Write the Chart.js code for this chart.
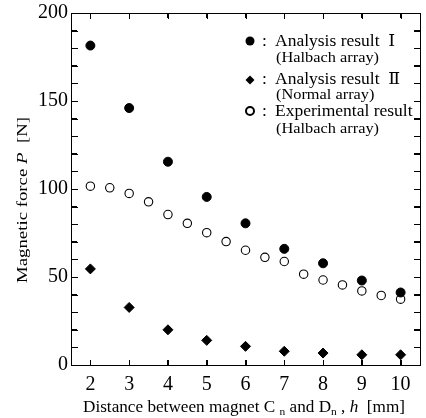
<!DOCTYPE html>
<html><head><meta charset="utf-8">
<script src="https://cdn.jsdelivr.net/npm/chart.js@4"></script>
<style>html,body{margin:0;padding:0;background:#fff;}#wrap{width:426px;height:418px;position:relative;}#wrap canvas{position:absolute;left:0;top:0;}.ov{position:absolute;background:#000;pointer-events:none;z-index:5;}</style>
</head><body><div id="wrap"><canvas id="c" width="426" height="418"></canvas></div>
<script>
// ---- data ----
const xTickValues = [2, 3, 4, 5, 6, 7, 8, 9, 10];
const yTickValues = [0, 50, 100, 150, 200];
const yMinorStep = 10;
const analysisX = [2, 3, 4, 5, 6, 7, 8, 9, 10];
const analysisHalbach = [181.5, 146, 115.5, 95.5, 80.5, 66, 57.8, 48, 41.2];
const analysisNormal = [54.6, 32.7, 20, 14, 10.6, 7.8, 6.8, 5.8, 5.8];
const experimentX = [2, 2.5, 3, 3.5, 4, 4.5, 5, 5.5, 6, 6.5, 7, 7.5, 8, 8.5, 9, 9.5, 10];
const experimentHalbach = [101.6, 100.7, 97.5, 92.7, 85.5, 80.5, 75.2, 70.1, 65.2, 61.2, 58.8, 51.6, 48.3, 45.5, 42.1, 39.5, 37.4];
const legendMain = ['Analysis result  \u2160', 'Analysis result  \u2161', 'Experimental result'];
const legendSub = ['(Halbach array)', '(Normal array)', '(Halbach array)'];
const xTitle = [
  {t: 'Distance between magnet C ', s: 'n'},
  {t: 'n', s: 'sub'},
  {t: ' and D', s: 'n'},
  {t: 'n', s: 'sub'},
  {t: ' , ', s: 'n'},
  {t: 'h', s: 'i'},
  {t: '  [mm]', s: 'n'}
];
const yTitle = [
  {t: 'Magnetic force ', s: 'n'},
  {t: 'P', s: 'i'},
  {t: '  [N]', s: 'n'}
];

const FAM = "'Liberation Serif','Times New Roman','DejaVu Serif',serif";
const pts = (xs, ys) => xs.map((x, i) => ({x: x, y: ys[i]}));
const yAllTicks = [];
for (let v = yTickValues[0]; v <= yTickValues[yTickValues.length - 1]; v += yMinorStep) yAllTicks.push(v);

function segFont(s, size) {
  if (s === 'i') return 'italic ' + size + 'px ' + FAM;
  if (s === 'sub') return Math.round(size * 0.68) + 'px ' + FAM;
  return size + 'px ' + FAM;
}
function richWidth(ctx, segs, size) {
  let w = 0;
  for (const g of segs) { ctx.font = segFont(g.s, size); w += ctx.measureText(g.t).width; }
  return w;
}
function drawRichFit(ctx, segs, size, tw) {
  const w = richWidth(ctx, segs, size);
  ctx.save();
  ctx.scale(tw / w, 1);
  let cx = 0;
  for (const g of segs) {
    ctx.font = segFont(g.s, size);
    ctx.fillText(g.t, cx, g.s === 'sub' ? 3 : 0);
    cx += ctx.measureText(g.t).width;
  }
  ctx.restore();
}
function fitText(ctx, text, x, y, font, sx) {
  ctx.save();
  ctx.translate(x, y);
  ctx.scale(sx, 1);
  ctx.font = font;
  ctx.fillText(text, 0, 0);
  ctx.restore();
}

// frame + inward ticks as overlay elements, positioned from the chart's own scales
function overlayFrame(chart) {
  const wrap = document.getElementById('wrap');
  wrap.querySelectorAll('.ov').forEach(e => e.remove());
  const a = chart.chartArea, xs = chart.scales.x, ys = chart.scales.y;
  const L = Math.round(a.left), R = Math.round(a.right), T = Math.round(a.top), B = Math.round(a.bottom);
  const box = (l, t, w, h) => {
    const d = document.createElement('div');
    d.className = 'ov';
    d.style.left = l + 'px'; d.style.top = t + 'px';
    d.style.width = w + 'px'; d.style.height = h + 'px';
    wrap.appendChild(d);
  };
  box(L, T, R - L + 1, 1);
  box(L, B, R - L + 1, 1);
  box(L, T, 1, B - T + 1);
  box(R, T, 1, B - T + 1);
  for (const v of xTickValues) {
    const p = Math.round(xs.getPixelForValue(v));
    box(p, B - 5, 1, 5);
    box(p, T + 1, 1, 5);
  }
  for (const v of yAllTicks) {
    const p = Math.round(ys.getPixelForValue(v));
    box(L + 1, p, 6, 1);
    box(R - 6, p, 6, 1);
  }
}

const decor = {
  id: 'decor',
  afterRender(chart) { overlayFrame(chart); },
  afterDraw(chart) {
    const ctx = chart.ctx;
    ctx.save();
    ctx.fillStyle = '#000';
    ctx.strokeStyle = '#000';
    ctx.textBaseline = 'alphabetic';
    ctx.textAlign = 'left';
    // legend
    const mx = 250, tx = 275, colx = 262;
    const rows = [41, 80, 111];
    const baseMain = [45.5, 84, 115.5];
    const baseSub = [62, 99, 133];
    ctx.beginPath(); ctx.arc(mx, rows[0], 4.5, 0, Math.PI * 2); ctx.fill();
    ctx.beginPath();
    ctx.moveTo(mx, rows[1] - 4.5); ctx.lineTo(mx + 4.5, rows[1]); ctx.lineTo(mx, rows[1] + 4.5); ctx.lineTo(mx - 4.5, rows[1]); ctx.closePath(); ctx.fill();
    ctx.lineWidth = 2;
    ctx.beginPath(); ctx.arc(mx, rows[2], 4, 0, Math.PI * 2); ctx.stroke();
    const subFont = '14.5px ' + FAM;
    ctx.font = subFont;
    const subSx = 103 / ctx.measureText(legendSub[0]).width;
    for (let i = 0; i < 3; i++) {
      ctx.font = '17.5px ' + FAM;
      ctx.fillText(':', colx, baseMain[i]);
      ctx.fillText(legendMain[i], tx, baseMain[i]);
      fitText(ctx, legendSub[i], tx + 1, baseSub[i], subFont, subSx);
    }
    // x title
    ctx.save();
    ctx.translate(83, 411.5);
    drawRichFit(ctx, xTitle, 16.5, 322);
    ctx.restore();
    // y title (rotated)
    ctx.save();
    ctx.translate(27, 283);
    ctx.rotate(-Math.PI / 2);
    drawRichFit(ctx, yTitle, 15.5, 166);
    ctx.restore();
    ctx.restore();
  }
};

const gridOpts = (len) => ({display: true, drawOnChartArea: false, drawTicks: true, tickLength: len, color: '#000', lineWidth: 1});
const borderOpts = {display: true, color: '#000', width: 1};

new Chart(document.getElementById('c'), {
  type: 'scatter',
  data: {
    datasets: [
      {label: legendMain[0], data: pts(analysisX, analysisHalbach), pointStyle: 'circle', pointRadius: 4.5, backgroundColor: '#000', borderColor: '#000', borderWidth: 1},
      {label: legendMain[1], data: pts(analysisX, analysisNormal), pointStyle: 'rectRot', pointRadius: 5, backgroundColor: '#000', borderColor: '#000', borderWidth: 1},
      {label: legendMain[2], data: pts(experimentX, experimentHalbach), pointStyle: 'circle', pointRadius: 4.2, backgroundColor: '#fff', borderColor: '#000', borderWidth: 1.1}
    ]
  },
  options: {
    responsive: false,
    animation: false,
    devicePixelRatio: 1,
    layout: {padding: {left: 0, right: 2, top: 13, bottom: 0}},
    plugins: {legend: {display: false}, tooltip: {enabled: false}},
    scales: {
      x: {
        type: 'linear', position: 'bottom', min: 1.5, max: 10.5,
        afterBuildTicks: s => { s.ticks = xTickValues.map(v => ({value: v})); },
        afterFit: s => { s.height = 53; s.paddingLeft = 0; s.paddingRight = 0; },
        grid: gridOpts(-5),
        border: borderOpts,
        ticks: {color: '#000', padding: 13, font: {family: FAM, size: 20}, maxRotation: 0, autoSkip: false}
      },
      x2: {
        type: 'linear', position: 'top', min: 1.5, max: 10.5,
        afterBuildTicks: s => { s.ticks = xTickValues.map(v => ({value: v})); },
        afterFit: s => { s.height = 0; s.paddingLeft = 0; s.paddingRight = 0; },
        grid: gridOpts(-5),
        border: borderOpts,
        ticks: {display: false}
      },
      y: {
        type: 'linear', position: 'left', min: 0, max: 200,
        afterBuildTicks: s => { s.ticks = yAllTicks.map(v => ({value: v})); },
        afterFit: s => { s.width = 71; s.paddingTop = 0; s.paddingBottom = 0; },
        grid: gridOpts(-6),
        border: borderOpts,
        ticks: {color: '#000', padding: 9, font: {family: FAM, size: 20}, autoSkip: false,
          callback: v => (yTickValues.includes(v) ? String(v) : '')}
      },
      y2: {
        type: 'linear', position: 'right', min: 0, max: 200,
        afterBuildTicks: s => { s.ticks = yAllTicks.map(v => ({value: v})); },
        afterFit: s => { s.width = 0; s.paddingTop = 0; s.paddingBottom = 0; },
        grid: gridOpts(-6),
        border: borderOpts,
        ticks: {display: false}
      }
    }
  },
  plugins: [decor]
});
</script></body></html>
